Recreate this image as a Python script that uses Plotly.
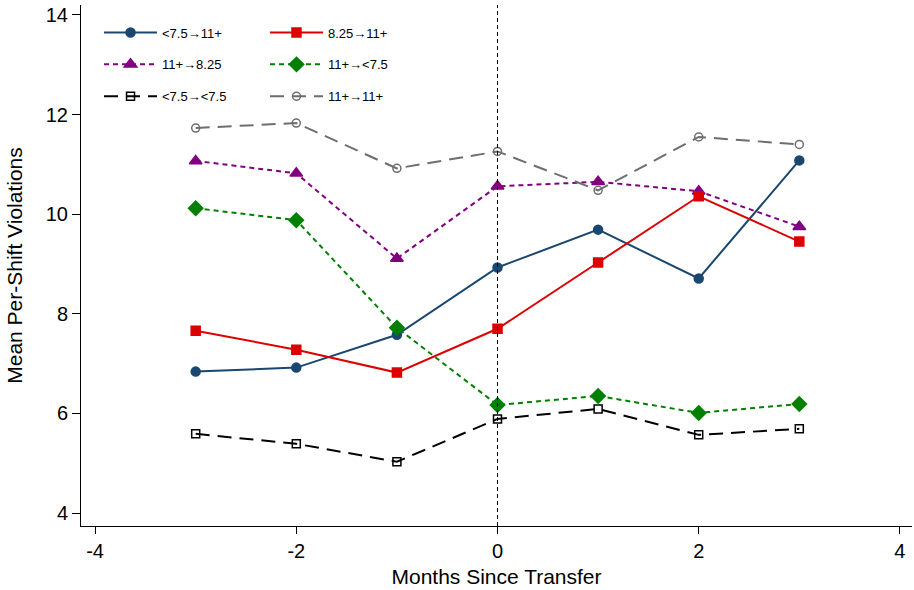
import plotly.graph_objects as go

months = [-3, -2, -1, 0, 1, 2, 3]

s_lt75_11 = [6.84, 6.92, 7.58, 8.93, 9.69, 8.71, 11.08]
s_825_11 = [7.66, 7.28, 6.82, 7.70, 9.03, 10.36, 9.45]
s_11_825 = [11.07, 10.82, 9.11, 10.56, 10.65, 10.46, 9.75]
s_11_lt75 = [10.12, 9.88, 7.72, 6.17, 6.35, 6.01, 6.19]
s_lt75_lt75 = [5.59, 5.39, 5.03, 5.89, 6.09, 5.57, 5.69]
s_11_11 = [11.73, 11.83, 10.92, 11.26, 10.48, 11.55, 11.40]

names = ["<7.5\u219211+", "8.25\u219211+", "11+\u21928.25", "11+\u2192<7.5", "<7.5\u2192<7.5", "11+\u219211+"]

x_ticks = [-4, -2, 0, 2, 4]
x_ticklabels = ["-4", "-2", "0", "2", "4"]
y_ticks = [4, 6, 8, 10, 12, 14]

FONT = "Liberation Sans, Arial, sans-serif"

fig = go.Figure()

specs = [
    (s_lt75_11, names[0], "#1a476f", "solid", "circle", 9, "legend", 1),
    (s_11_825, names[2], "#800080", "5px,4px", "triangle-up", 11, "legend", 2),
    (s_lt75_lt75, names[4], "#000000", "14px,8px", "square-open", 8, "legend", 3),
    (s_825_11, names[1], "#dd0000", "solid", "square", 9, "legend2", 1),
    (s_11_lt75, names[3], "#008000", "5px,4px", "diamond", 11, "legend2", 2),
    (s_11_11, names[5], "#6e6e6e", "14px,8px", "circle-open", 8, "legend2", 3),
]

for vals, name, color, dash, sym, size, leg, rank in specs:
    fig.add_trace(go.Scatter(
        x=months, y=vals, name=name, mode="lines+markers",
        line=dict(color=color, width=2, dash=dash),
        marker=dict(symbol=sym, size=size, color=color,
                    line=dict(color=color, width=1.5)),
        legend=leg, legendgroup=name, legendrank=rank,
    ))

fig.add_shape(type="line", x0=0, x1=0, y0=0, y1=1, xref="x", yref="paper",
              line=dict(color="black", width=1, dash="4px,3px"))

legend_common = dict(
    font=dict(family=FONT, size=13, color="black"),
    bgcolor="rgba(0,0,0,0)", borderwidth=0,
    tracegroupgap=12, itemwidth=53,
    xanchor="left", yanchor="top",
)

fig.update_layout(
    width=914, height=590,
    margin=dict(l=81, r=2, t=5, b=64),
    paper_bgcolor="white", plot_bgcolor="white",
    font=dict(family=FONT, size=20, color="black"),
    legend=dict(x=0.0217, y=0.976, **legend_common),
    legend2=dict(x=0.2214, y=0.976, **legend_common),
    xaxis=dict(
        range=[-4.14, 4.12], tickvals=x_ticks, ticktext=x_ticklabels,
        ticks="outside", ticklen=7, tickcolor="black",
        showline=True, linecolor="black", linewidth=1,
        showgrid=False, zeroline=False,
        title=dict(text="Months Since Transfer", font=dict(size=21), standoff=8),
    ),
    yaxis=dict(
        range=[3.74, 14.2], tickvals=y_ticks,
        ticks="outside", ticklen=8, tickcolor="black",
        showline=True, linecolor="black", linewidth=1,
        showgrid=False, zeroline=False,
        title=dict(text="Mean Per-Shift Violations", font=dict(size=21), standoff=17),
    ),
)

fig.write_html("out.html")
